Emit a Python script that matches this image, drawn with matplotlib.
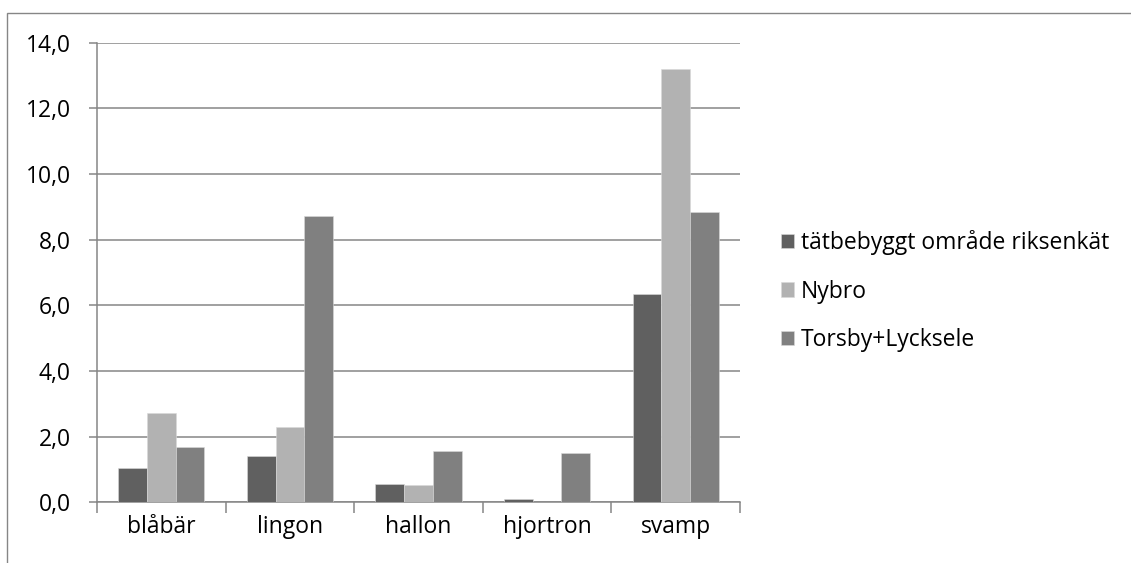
import matplotlib
matplotlib.use("Agg")
import matplotlib.pyplot as plt
import numpy as np
from matplotlib.patches import Rectangle

categories = ["blåbär", "lingon", "hallon", "hjortron", "svamp"]
series_names = ["tätbebyggt område riksenkät", "Nybro", "Torsby+Lycksele"]
tatbebyggt = [1.04, 1.40, 0.56, 0.10, 6.33]
nybro = [2.72, 2.30, 0.53, 0.0, 13.2]
torsby = [1.69, 8.72, 1.55, 1.51, 8.85]
yticks = [0, 2, 4, 6, 8, 10, 12, 14]

colors = ["#606060", "#b2b2b2", "#808080"]
grid_c = "#868686"

plt.rcParams['font.family'] = ['Open Sans', 'DejaVu Sans']
FS = 16.5
W, H = 1131, 563
fig = plt.figure(figsize=(W / 100, H / 100), dpi=100)

# outer chart border
fig.patches.append(Rectangle((7 / W, -0.05), 1.2, (H - 13) / H + 0.05,
                             transform=fig.transFigure, fill=False,
                             edgecolor="#868686", linewidth=1.0))

ax = fig.add_axes([97 / W, (H - 502.3) / H, (740 - 97) / W, (502.3 - 42.7) / H])
x = np.arange(len(categories))
bw = 0.223
for i, (vals, name) in enumerate(zip([tatbebyggt, nybro, torsby], series_names)):
    ax.bar(x + (i - 1) * bw, vals, width=bw, color=colors[i], label=name,
           edgecolor="#d9d9d9", linewidth=0.4, zorder=3)

ax.set_xlim(-0.5, len(categories) - 0.5)
ax.set_ylim(0, 14)
ax.set_yticks(yticks)
ax.set_yticklabels([f"{v:.1f}".replace(".", ",") for v in yticks], fontsize=FS)
ax.yaxis.grid(True, color=grid_c, linewidth=1.1, zorder=0)
ax.set_axisbelow(True)

ax.set_xticks(x)
ax.set_xticklabels(categories, fontsize=FS)
ax.set_xticks(np.arange(-0.5, len(categories) + 0.5, 1.0), minor=True)
ax.tick_params(axis='x', which='major', length=0, pad=9)
ax.tick_params(axis='x', which='minor', length=8, width=1.1, color=grid_c)
ax.tick_params(axis='y', length=6, width=1.1, color=grid_c, pad=13)

for s in ["top", "right"]:
    ax.spines[s].set_visible(False)
for s in ["left", "bottom"]:
    ax.spines[s].set_color(grid_c)
    ax.spines[s].set_linewidth(1.1)

fig.legend(loc="center left", bbox_to_anchor=(781 / W, (H - 291) / H),
           frameon=False, fontsize=FS, handlelength=0.58, handleheight=0.58,
           handletextpad=0.3, labelspacing=1.08, borderpad=0, borderaxespad=0)

fig.savefig("out.png", dpi=100)
